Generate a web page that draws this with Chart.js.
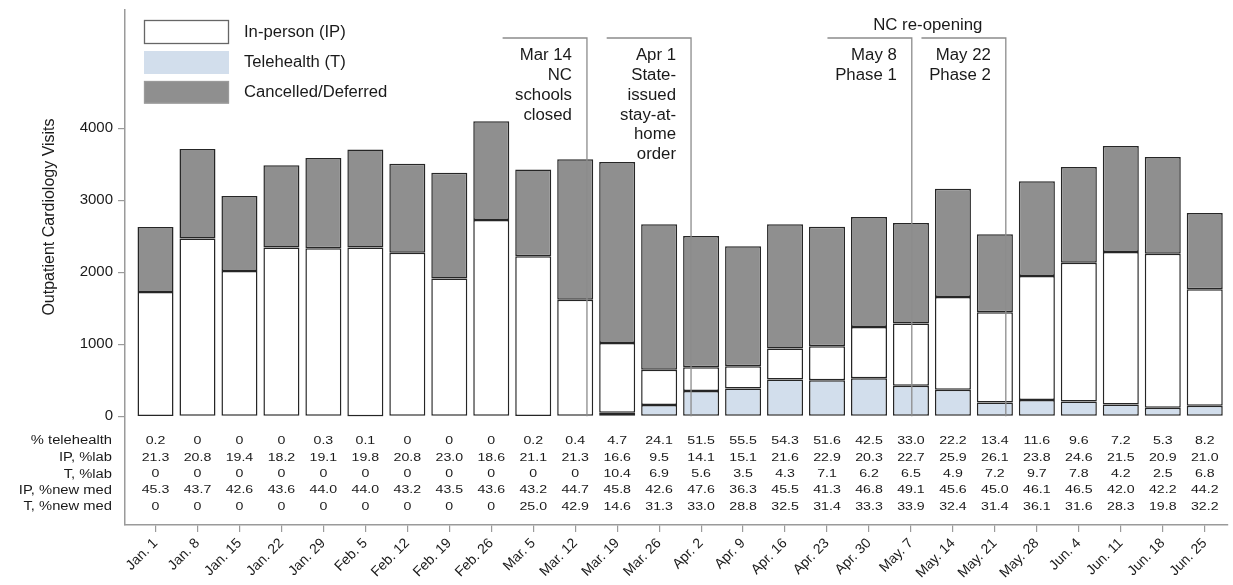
<!DOCTYPE html>
<html><head><meta charset="utf-8">
<script src="https://cdn.jsdelivr.net/npm/chart.js@4.4.1/dist/chart.umd.min.js"></script>
<style>html,body{margin:0;padding:0;background:#fff;}canvas{display:block;}</style>
</head><body>
<canvas id="c" width="1233" height="585" style="width:1233px;height:585px"></canvas>
<script>
const categories = ['Jan. 1','Jan. 8','Jan. 15','Jan. 22','Jan. 29','Feb. 5','Feb. 12','Feb. 19','Feb. 26','Mar. 5','Mar. 12','Mar. 19','Mar. 26','Apr. 2','Apr. 9','Apr. 16','Apr. 23','Apr. 30','May. 7','May. 14','May. 21','May. 28','Jun. 4','Jun. 11','Jun. 18','Jun. 25'];
const telehealth = [3,0,0,0,7,2,0,0,0,4,6,48,156,350,385,510,502,527,425,368,193,226,205,164,120,145];
const inPerson = [1724,2468,2018,2343,2326,2341,2273,1912,2727,2218,1614,971,492,330,309,430,470,714,862,1289,1251,1723,1929,2118,2139,1619];
const cancelled = [902,1245,1042,1143,1255,1361,1236,1472,1370,1204,1949,2513,2019,1825,1667,1727,1662,1527,1398,1505,1084,1315,1329,1473,1343,1060];
const yTicks = [0,1000,2000,3000,4000];

const rowLabels = ['% telehealth','IP, %lab','T, %lab','IP, %new med','T, %new med'];
const pctTelehealth = [0.2,0,0,0,0.3,0.1,0,0,0,0.2,0.4,4.7,24.1,51.5,55.5,54.3,51.6,42.5,33.0,22.2,13.4,11.6,9.6,7.2,5.3,8.2];
const ipLab = [21.3,20.8,19.4,18.2,19.1,19.8,20.8,23.0,18.6,21.1,21.3,16.6,9.5,14.1,15.1,21.6,22.9,20.3,22.7,25.9,26.1,23.8,24.6,21.5,20.9,21.0];
const tLab = [0,0,0,0,0,0,0,0,0,0,0,10.4,6.9,5.6,3.5,4.3,7.1,6.2,6.5,4.9,7.2,9.7,7.8,4.2,2.5,6.8];
const ipNewMed = [45.3,43.7,42.6,43.6,44.0,44.0,43.2,43.5,43.6,43.2,44.7,45.8,42.6,47.6,36.3,45.5,41.3,46.8,49.1,45.6,45.0,46.1,46.5,42.0,42.2,44.2];
const tNewMed = [0,0,0,0,0,0,0,0,0,25.0,42.9,14.6,31.3,33.0,28.8,32.5,31.4,33.3,33.9,32.4,31.4,36.1,31.6,28.3,19.8,32.2];

const eventWeek = [10.28, 12.76, 18.02, 20.26];
const eventText = [['Mar 14','NC','schools','closed'],['Apr 1','State-','issued','stay-at-','home','order'],['May 8','Phase 1'],['May 22','Phase 2']];
const groupLabel = 'NC re-opening';
const legendLabels = ['In-person (IP)','Telehealth (T)','Cancelled/Deferred'];
const yTitle = 'Outpatient Cardiology Visits';

const C_BLUE = '#d2deec', C_GRAY = '#8f8f8f', C_EDGE = '#262626', C_TEXT = '#1a1a1a', C_AXIS = '#9a9a9a';
const FONT = '"Liberation Sans", Arial, sans-serif';

const toXY = arr => arr.map((v, i) => ({x: i, y: v}));

function stretchText(ctx, txt, x, y, sx, align) {
  ctx.save();
  ctx.translate(x, y);
  ctx.scale(sx, 1);
  ctx.textAlign = align;
  ctx.fillText(txt, 0, 0);
  ctx.restore();
}

const overlay = {
  id: 'overlay',
  afterDatasetsDraw(chart) {
    const {ctx, scales: {x, y}} = chart;
    const top = 38, bottom = y.getPixelForValue(0);
    ctx.save();
    ctx.strokeStyle = '#8c8c8c';
    ctx.lineWidth = 1.3;
    ctx.fillStyle = C_TEXT;
    ctx.font = '16px ' + FONT;
    ctx.textBaseline = 'middle';
    eventWeek.forEach((w, k) => {
      const px = x.getPixelForValue(w);
      const lx = x.getPixelForValue(w - 2.01);
      ctx.beginPath();
      ctx.moveTo(lx, top); ctx.lineTo(px, top); ctx.lineTo(px, bottom);
      ctx.stroke();
      eventText[k].forEach((t, j) => {
        stretchText(ctx, t, px - 15, 56 + j * 19.7, 1.05, 'right');
      });
    });
    const gx = (x.getPixelForValue(eventWeek[2]) + x.getPixelForValue(eventWeek[3])) / 2 - 31;
    stretchText(ctx, groupLabel, gx, 26, 1.05, 'center');
    ctx.restore();
  },
  afterDraw(chart) {
    const {ctx, scales: {x}} = chart;
    ctx.save();
    const boxes = [[20, 24, '#ffffff', '#666'], [51, 23, C_BLUE, null], [81, 22.5, C_GRAY, '#9a9a9a']];
    boxes.forEach((b, i) => {
      ctx.fillStyle = b[2];
      ctx.fillRect(144, b[0], 85, b[1]);
      if (b[3]) { ctx.strokeStyle = b[3]; ctx.lineWidth = 1.3; ctx.strokeRect(144.5, b[0] + 0.5, 84, b[1] - 1); }
      ctx.fillStyle = C_TEXT;
      ctx.font = '16px ' + FONT;
      ctx.textBaseline = 'middle';
      stretchText(ctx, legendLabels[i], 244, b[0] + b[1] / 2 + 0.5, 1.04, 'left');
    });
    ctx.save();
    ctx.translate(50, 217);
    ctx.rotate(-Math.PI / 2);
    ctx.font = '16px ' + FONT;
    ctx.fillStyle = C_TEXT;
    ctx.textAlign = 'center';
    ctx.textBaseline = 'middle';
    ctx.fillText(yTitle, 0, 0);
    ctx.restore();
    const rows = [pctTelehealth, ipLab, tLab, ipNewMed, tNewMed];
    const rowY = [441, 458, 474.5, 490.5, 507];
    ctx.fillStyle = C_TEXT;
    ctx.textBaseline = 'middle';
    rows.forEach((r, ri) => {
      ctx.font = '12.5px ' + FONT;
      stretchText(ctx, rowLabels[ri], 112, rowY[ri], 1.18, 'right');
      ctx.font = '10.5px ' + FONT;
      r.forEach((v, i) => {
        const s = v === 0 ? '0' : v.toFixed(1);
        stretchText(ctx, s, x.getPixelForValue(i), rowY[ri], 1.35, 'center');
      });
    });
    ctx.restore();
  }
};

const common = {borderColor: C_EDGE, borderWidth: 1.5, borderSkipped: false, barPercentage: 0.858, categoryPercentage: 1};

new Chart(document.getElementById('c'), {
  type: 'bar',
  data: {
    datasets: [
      Object.assign({label: legendLabels[1], data: toXY(telehealth), backgroundColor: C_BLUE}, common),
      Object.assign({label: legendLabels[0], data: toXY(inPerson), backgroundColor: '#ffffff'}, common),
      Object.assign({label: legendLabels[2], data: toXY(cancelled), backgroundColor: C_GRAY}, common)
    ]
  },
  options: {
    responsive: false,
    animation: false,
    devicePixelRatio: 1,
    layout: {padding: {top: 10, right: 5, left: 0, bottom: 0}},
    plugins: {legend: {display: false}, tooltip: {enabled: false}},
    scales: {
      x: {
        type: 'linear', stacked: true, min: -0.727, max: 25.554, offset: false,
        afterBuildTicks: s => { s.ticks = categories.map((_, i) => ({value: i})); },
        afterFit: s => { s.height = 60; s.paddingLeft = 0; s.paddingRight = 0; },
        ticks: {callback: v => categories[v], minRotation: 45, maxRotation: 45, autoSkip: false,
                font: {size: 14, family: FONT}, color: C_TEXT, padding: 3},
        grid: {offset: false, drawOnChartArea: false, drawTicks: true, tickLength: 7, color: C_AXIS, lineWidth: 1.2},
        border: {color: C_AXIS, width: 1.5}
      },
      y: {
        type: 'linear', stacked: true, min: -1510, max: 5643,
        afterBuildTicks: s => { s.ticks = yTicks.map(v => ({value: v})); },
        afterFit: s => { s.width = 125; s.paddingTop = 0; s.paddingBottom = 0; },
        ticks: {callback: v => String(v), font: {size: 15, family: FONT}, color: C_TEXT, padding: 5},
        grid: {drawOnChartArea: false, drawTicks: true, tickLength: 7, color: C_AXIS, lineWidth: 1.2},
        border: {color: C_AXIS, width: 1.5}
      }
    }
  },
  plugins: [overlay]
});
</script>
</body></html>
